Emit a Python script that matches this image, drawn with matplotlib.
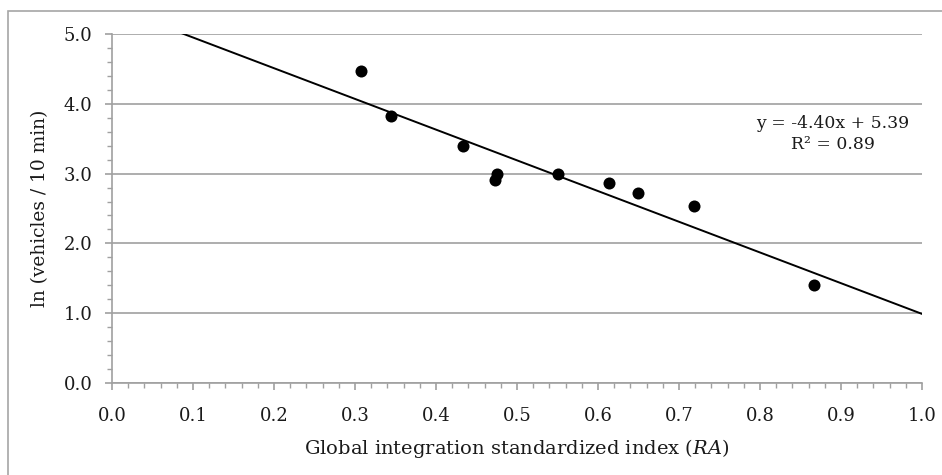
import matplotlib
matplotlib.use("Agg")
import matplotlib.pyplot as plt
import numpy as np
from matplotlib.ticker import MultipleLocator, FormatStrFormatter
from matplotlib.patches import Rectangle

plt.rcParams['font.family'] = ['DejaVu Serif']
plt.rcParams['mathtext.fontset'] = 'dejavuserif'

ra = [0.307, 0.344, 0.433, 0.475, 0.473, 0.550, 0.614, 0.649, 0.718, 0.867]
ln_veh = [4.47, 3.82, 3.40, 3.00, 2.91, 3.00, 2.86, 2.72, 2.54, 1.40]
slope, intercept = -4.40, 5.39
eq_text = "y = -4.40x + 5.39\nR² = 0.89"

W, H = 942, 475
fig = plt.figure(figsize=(W / 100, H / 100), dpi=100)
fig.patch.set_facecolor('white')

# outer frame (only top/left visible)
fig.patches.append(Rectangle((8 / W, -0.1), 1.2, 1 - 11 / H + 0.1, transform=fig.transFigure,
                             fill=False, edgecolor='#a6a6a6', linewidth=1.2, zorder=0))

left, right, top, bottom = 112, 922, 34, 383
ax = fig.add_axes([left / W, 1 - bottom / H, (right - left) / W, (bottom - top) / H])
ax.set_xlim(0, 1.0)
ax.set_ylim(0, 5.0)

gc = '#a0a0a0'
tc = '#1a1a1a'
fs = 13
for s in ['top', 'right']:
    ax.spines[s].set_visible(False)
for s in ['left', 'bottom']:
    ax.spines[s].set_color(gc)
    ax.spines[s].set_linewidth(1.2)

ax.xaxis.set_major_locator(MultipleLocator(0.1))
ax.xaxis.set_minor_locator(MultipleLocator(0.02))
ax.yaxis.set_major_locator(MultipleLocator(1.0))
ax.yaxis.set_minor_locator(MultipleLocator(0.2))
ax.xaxis.set_major_formatter(FormatStrFormatter('%.1f'))
ax.yaxis.set_major_formatter(FormatStrFormatter('%.1f'))
ax.tick_params(which='major', length=5, width=1.2, color=gc, labelsize=fs, labelcolor=tc)
ax.tick_params(which='minor', length=3.5, width=1.0, color=gc)
ax.tick_params(axis='x', which='major', pad=12)
ax.tick_params(axis='y', which='major', pad=9)

ax.grid(axis='y', which='major', color=gc, linewidth=1.2)
ax.set_axisbelow(True)

xs = np.array([0.0, 1.0])
ax.plot(xs, slope * xs + intercept, color='black', linewidth=1.4, zorder=3)
ax.scatter(ra, ln_veh, s=75, color='black', zorder=4, linewidths=0)

fig.text(833 / W, 1 - 134 / H, eq_text, ha='center', va='center', fontsize=12.4,
         color=tc, linespacing=1.3)

fig.text(517 / W, 1 - 448 / H, "Global integration standardized index ($\\mathit{RA}$)",
         ha='center', va='center', fontsize=14, color=tc)
fig.text(40 / W, 1 - 208 / H, "ln (vehicles / 10 min)", ha='center', va='center',
         rotation=90, fontsize=13.4, color=tc)

fig.savefig('out.png', dpi=100)
